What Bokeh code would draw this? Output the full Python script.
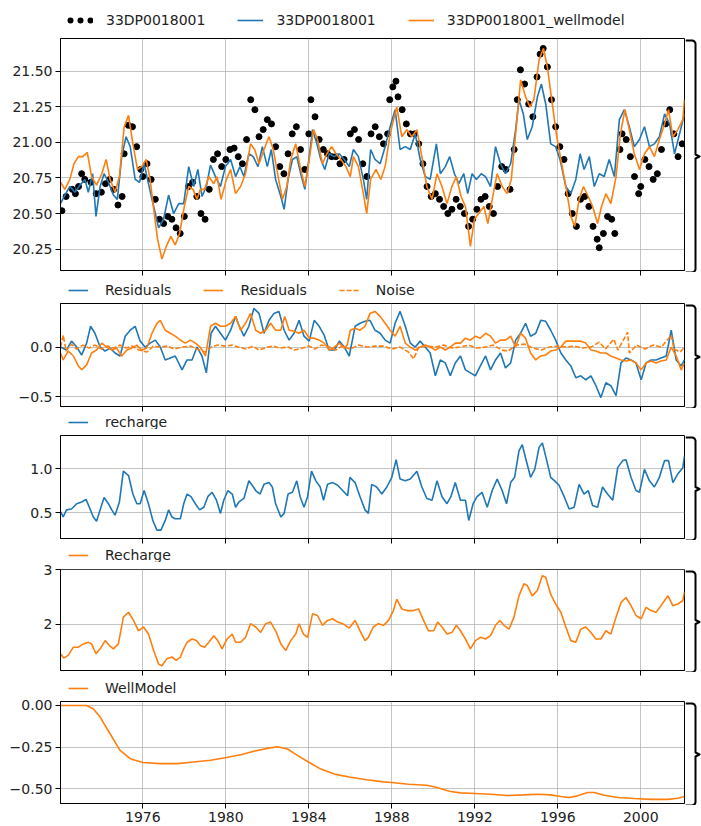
from bokeh.plotting import figure
from bokeh.layouts import column, row
from bokeh.models import (Range1d, FixedTicker, Legend, LegendItem,
                          CustomJSTickFormatter)
from bokeh.embed import file_html
from bokeh.resources import INLINE

# ---------------- data ----------------
obs_year = [1972.10, 1972.30, 1972.60, 1972.75, 1972.90, 1973.05, 1973.20, 1973.50, 1973.75, 1974.00,
            1974.20, 1974.40, 1974.60, 1974.80, 1975.00, 1975.10, 1975.30, 1975.50, 1975.70, 1975.90,
            1976.00, 1976.20, 1976.40, 1976.60, 1976.80, 1977.00, 1977.20, 1977.40, 1977.60, 1977.80,
            1978.00, 1978.20, 1978.40, 1978.60, 1978.80, 1979.00, 1979.20, 1979.40, 1979.60, 1979.80,
            1980.00, 1980.20, 1980.40, 1980.60, 1980.80, 1981.00, 1981.20, 1981.40, 1981.60, 1981.80,
            1982.00, 1982.20, 1982.40, 1982.60, 1982.80, 1983.00, 1983.20, 1983.40, 1983.60, 1983.80,
            1984.00, 1984.10, 1984.30, 1984.50, 1984.70, 1984.90, 1985.10, 1985.30, 1985.50, 1985.70,
            1986.00, 1986.20, 1986.40, 1986.60, 1986.80, 1987.00, 1987.20, 1987.40, 1987.60, 1987.80,
            1987.90, 1988.05, 1988.20, 1988.30, 1988.50, 1988.70, 1988.90, 1989.10, 1989.30, 1989.50,
            1989.70, 1989.90, 1990.10, 1990.30, 1990.50, 1990.70, 1990.90, 1991.10, 1991.30, 1991.50,
            1991.70, 1991.90, 1992.10, 1992.30, 1992.50, 1992.70, 1992.90, 1993.10, 1993.30, 1993.50,
            1993.70, 1993.90, 1994.05, 1994.20, 1994.40, 1994.60, 1994.80, 1995.00, 1995.15, 1995.30,
            1995.50, 1995.70, 1995.90, 1996.10, 1996.30, 1996.50, 1996.70, 1996.90, 1997.10, 1997.30,
            1997.50, 1997.70, 1997.90, 1998.00, 1998.20, 1998.40, 1998.60, 1998.75, 1999.00, 1999.10,
            1999.30, 1999.50, 1999.70, 1999.90, 2000.00, 2000.20, 2000.40, 2000.60, 2000.80, 2001.00,
            2001.20, 2001.40, 2001.60, 2001.80, 2002.00]
obs_head = [20.52, 20.62, 20.67, 20.64, 20.69, 20.78, 20.74, 20.72, 20.64, 20.65,
            20.71, 20.74, 20.67, 20.56, 20.62, 20.92, 21.12, 21.11, 20.97, 20.81,
            20.76, 20.85, 20.74, 20.60, 20.46, 20.43, 20.48, 20.46, 20.40, 20.36,
            20.48, 20.69, 20.72, 20.62, 20.50, 20.46, 20.67, 20.88, 20.92, 20.83,
            20.88, 20.95, 20.96, 20.90, 20.85, 21.02, 21.30, 21.23, 21.04, 21.09,
            21.16, 21.13, 20.97, 20.83, 20.78, 20.92, 21.06, 21.11, 20.95, 20.81,
            21.06, 21.30, 21.18, 21.02, 20.95, 20.92, 20.90, 20.90, 20.85, 20.88,
            21.06, 21.09, 21.02, 20.85, 20.76, 21.06, 21.11, 21.04, 20.99, 21.06,
            21.30, 21.39, 21.43, 21.32, 21.23, 21.13, 21.06, 21.06, 20.99, 20.85,
            20.69, 20.62, 20.64, 20.60, 20.55, 20.50, 20.53, 20.60, 20.55, 20.50,
            20.41, 20.46, 20.53, 20.60, 20.62, 20.55, 20.50, 20.69, 20.83, 20.81,
            20.67, 20.95, 21.30, 21.51, 21.41, 21.27, 21.18, 21.46, 21.62, 21.66,
            21.53, 21.30, 21.11, 20.97, 20.88, 20.64, 20.50, 20.41, 20.60, 20.62,
            20.55, 20.41, 20.32, 20.26, 20.36, 20.48, 20.46, 20.36, 20.95, 21.06,
            21.02, 20.90, 20.76, 20.64, 20.69, 20.88, 20.83, 20.74, 20.78, 20.95,
            21.13, 21.23, 21.06, 20.90, 20.99]

sim_year = [1972.03, 1972.24, 1972.48, 1972.73, 1972.97, 1973.21, 1973.37, 1973.58, 1973.74, 1973.94,
            1974.13, 1974.34, 1974.58, 1974.77, 1974.98, 1975.19, 1975.39, 1975.63, 1975.84, 1976.06,
            1976.27, 1976.52, 1976.76, 1977.00, 1977.24, 1977.48, 1977.73, 1977.97, 1978.21, 1978.45,
            1978.65, 1978.85, 1979.06, 1979.26, 1979.50, 1979.74, 1979.98, 1980.23, 1980.47, 1980.68,
            1980.87, 1981.11, 1981.32, 1981.55, 1981.76, 1982.00, 1982.19, 1982.40, 1982.65, 1982.81,
            1983.00, 1983.21, 1983.42, 1983.61, 1983.81, 1984.02, 1984.18, 1984.39, 1984.58, 1984.77,
            1984.98, 1985.23, 1985.47, 1985.71, 1985.95, 1986.15, 1986.39, 1986.63, 1986.79, 1986.98,
            1987.19, 1987.44, 1987.68, 1987.92, 1988.16, 1988.40, 1988.65, 1988.89, 1989.13, 1989.37,
            1989.61, 1989.85, 1990.15, 1990.34, 1990.58, 1990.79, 1991.02, 1991.23, 1991.47, 1991.66,
            1991.87, 1992.08, 1992.31, 1992.52, 1992.76, 1993.00, 1993.24, 1993.48, 1993.73, 1993.97,
            1994.13, 1994.34, 1994.53, 1994.77, 1995.02, 1995.21, 1995.42, 1995.66, 1995.90, 1996.11,
            1996.39, 1996.63, 1996.87, 1997.08, 1997.27, 1997.52, 1997.76, 1998.00, 1998.24, 1998.48,
            1998.73, 1998.97, 1999.21, 1999.45, 1999.69, 1999.94, 2000.18, 2000.42, 2000.66, 2000.90,
            2001.15, 2001.39, 2001.63, 2001.87, 2002.11]
sim_head = [20.57, 20.63, 20.69, 20.65, 20.70, 20.74, 20.65, 20.78, 20.48, 20.69,
            20.78, 20.72, 20.63, 20.60, 20.90, 21.04, 20.97, 20.74, 20.72, 20.85,
            20.71, 20.55, 20.40, 20.46, 20.63, 20.50, 20.57, 20.57, 20.83, 20.69,
            20.81, 20.62, 20.69, 20.84, 20.76, 20.69, 20.83, 20.88, 20.76, 20.83,
            20.76, 20.92, 20.90, 20.83, 20.97, 20.83, 20.95, 20.74, 20.62, 20.53,
            20.74, 20.88, 20.90, 20.78, 20.67, 20.90, 21.09, 20.99, 20.88, 20.81,
            20.92, 20.90, 20.92, 20.88, 20.83, 20.95, 20.90, 20.74, 20.60, 20.95,
            20.88, 20.85, 20.97, 21.11, 21.23, 20.95, 20.97, 20.95, 21.06, 20.88,
            20.76, 20.74, 20.99, 20.78, 20.83, 20.90, 20.78, 20.71, 20.78, 20.64,
            20.78, 20.74, 20.78, 20.76, 20.69, 20.97, 20.85, 20.78, 20.85, 21.09,
            21.30, 21.20, 21.02, 21.11, 21.32, 21.41, 21.27, 20.99, 20.97, 20.88,
            20.69, 20.64, 20.74, 20.92, 20.81, 20.90, 20.69, 20.78, 20.76, 20.88,
            20.76, 21.16, 21.23, 21.11, 20.97, 21.02, 21.11, 20.97, 20.99, 21.04,
            21.20, 21.13, 20.92, 21.06, 21.20]

wsim_year = [1972.03, 1972.24, 1972.48, 1972.68, 1972.89, 1973.10, 1973.32, 1973.53, 1973.77, 1974.02,
             1974.23, 1974.42, 1974.66, 1974.87, 1975.10, 1975.31, 1975.52, 1975.74, 1975.95, 1976.16,
             1976.35, 1976.55, 1976.71, 1976.92, 1977.13, 1977.35, 1977.56, 1977.77, 1978.00, 1978.21,
             1978.42, 1978.61, 1978.77, 1978.97, 1979.18, 1979.42, 1979.58, 1979.77, 1980.03, 1980.23,
             1980.47, 1980.71, 1980.95, 1981.19, 1981.39, 1981.60, 1981.84, 1982.08, 1982.29, 1982.52,
             1982.73, 1982.94, 1983.13, 1983.37, 1983.58, 1983.81, 1984.02, 1984.23, 1984.42, 1984.66,
             1984.87, 1985.10, 1985.31, 1985.55, 1985.79, 1986.00, 1986.15, 1986.39, 1986.63, 1986.79,
             1986.98, 1987.24, 1987.47, 1987.68, 1987.92, 1988.24, 1988.48, 1988.73, 1988.97, 1989.21,
             1989.45, 1989.69, 1989.94, 1990.18, 1990.42, 1990.66, 1990.90, 1991.11, 1991.34, 1991.55,
             1991.79, 1991.98, 1992.19, 1992.44, 1992.63, 1992.84, 1993.08, 1993.32, 1993.56, 1993.76,
             1993.97, 1994.21, 1994.45, 1994.66, 1994.85, 1995.10, 1995.31, 1995.50, 1995.71, 1995.95,
             1996.15, 1996.39, 1996.63, 1996.82, 1997.03, 1997.24, 1997.47, 1997.68, 1997.92, 1998.11,
             1998.32, 1998.56, 1998.81, 1999.02, 1999.24, 1999.45, 1999.69, 1999.94, 2000.18, 2000.42,
             2000.66, 2000.90, 2001.15, 2001.34, 2001.55, 2001.79, 2002.03, 2002.11]
wsim_head = [20.72, 20.67, 20.74, 20.85, 20.90, 20.90, 20.93, 20.76, 20.70, 20.78,
             20.88, 20.74, 20.65, 20.76, 21.11, 21.19, 20.99, 20.81, 20.83, 20.88,
             20.74, 20.50, 20.32, 20.18, 20.27, 20.34, 20.28, 20.36, 20.55, 20.69,
             20.67, 20.60, 20.67, 20.67, 20.76, 20.71, 20.76, 20.60, 20.74, 20.81,
             20.64, 20.69, 20.78, 20.99, 20.95, 20.85, 20.95, 21.04, 20.95, 20.76,
             20.60, 20.69, 20.88, 20.99, 20.83, 20.69, 20.88, 21.09, 21.02, 20.85,
             20.92, 20.97, 20.92, 20.88, 20.83, 20.76, 20.90, 20.83, 20.64, 20.50,
             20.74, 20.81, 20.74, 20.83, 21.06, 21.25, 21.04, 21.09, 21.04, 21.09,
             20.90, 20.69, 20.60, 20.78, 20.69, 20.57, 20.69, 20.76, 20.62, 20.55,
             20.27, 20.46, 20.50, 20.55, 20.43, 20.60, 20.78, 20.69, 20.64, 20.74,
             21.06, 21.44, 21.32, 21.25, 21.30, 21.58, 21.66, 21.53, 21.30, 21.04,
             20.88, 20.69, 20.48, 20.41, 20.60, 20.69, 20.62, 20.55, 20.43, 20.55,
             20.64, 20.57, 20.76, 21.06, 21.23, 21.09, 20.92, 20.81, 20.92, 20.97,
             20.90, 21.02, 21.13, 21.23, 21.04, 21.09, 21.16, 21.30]

res_year = [1972.03, 1972.32, 1972.56, 1972.81, 1973.05, 1973.29, 1973.48, 1973.69, 1973.94, 1974.18,
            1974.42, 1974.66, 1974.90, 1975.15, 1975.39, 1975.63, 1975.87, 1976.11, 1976.35, 1976.60,
            1976.84, 1977.08, 1977.32, 1977.56, 1977.89, 1978.13, 1978.37, 1978.61, 1978.85, 1979.06,
            1979.29, 1979.50, 1979.74, 1979.98, 1980.23, 1980.47, 1980.63, 1980.87, 1981.11, 1981.35,
            1981.60, 1981.84, 1982.08, 1982.32, 1982.56, 1982.81, 1983.05, 1983.29, 1983.53, 1983.77,
            1984.02, 1984.26, 1984.50, 1984.74, 1984.98, 1985.23, 1985.47, 1985.71, 1985.95, 1986.23,
            1986.47, 1986.71, 1986.95, 1987.19, 1987.44, 1987.68, 1987.92, 1988.16, 1988.40, 1988.65,
            1988.89, 1989.13, 1989.37, 1989.61, 1989.85, 1990.10, 1990.34, 1990.58, 1990.82, 1991.06,
            1991.31, 1991.55, 1991.79, 1992.03, 1992.27, 1992.52, 1992.76, 1993.00, 1993.24, 1993.48,
            1993.73, 1993.97, 1994.21, 1994.45, 1994.69, 1994.94, 1995.18, 1995.42, 1995.66, 1995.90,
            1996.15, 1996.39, 1996.63, 1996.87, 1997.11, 1997.35, 1997.60, 1997.84, 1998.08, 1998.32,
            1998.56, 1998.81, 1999.05, 1999.29, 1999.53, 1999.77, 2000.02, 2000.26, 2000.50, 2000.74,
            2000.98, 2001.23, 2001.47, 2001.71, 2001.95, 2002.11]
res_val = [0.00, -0.03, 0.06, 0.00, -0.08, 0.04, 0.21, 0.14, 0.00, -0.04,
           -0.01, -0.06, -0.09, 0.11, 0.17, 0.21, 0.06, 0.00, 0.04, 0.07,
           0.00, -0.13, -0.11, -0.09, -0.23, -0.13, -0.13, 0.00, -0.09, -0.26,
           0.14, 0.21, 0.14, 0.07, 0.17, 0.31, 0.22, 0.11, 0.21, 0.39,
           0.34, 0.14, 0.27, 0.34, 0.36, 0.17, 0.07, 0.14, 0.27, 0.11,
           0.06, 0.27, 0.21, 0.12, -0.03, -0.03, 0.06, 0.00, -0.09, 0.21,
           0.24, 0.26, 0.27, 0.17, 0.14, 0.07, 0.04, 0.24, 0.36, 0.21,
           0.04, 0.00, 0.06, 0.00, -0.06, -0.29, -0.13, -0.16, -0.29, -0.16,
           -0.09, -0.23, -0.26, -0.29, -0.19, -0.09, -0.23, -0.13, -0.06, -0.21,
           -0.16, 0.07, 0.14, 0.24, 0.11, 0.14, 0.27, 0.26, 0.17, 0.07,
           -0.06, -0.13, -0.19, -0.31, -0.29, -0.33, -0.29, -0.39, -0.51, -0.36,
           -0.39, -0.49, -0.16, -0.11, -0.13, -0.16, -0.33, -0.16, -0.13, -0.13,
           -0.11, -0.09, 0.17, -0.13, -0.19, -0.13]

wres_year = [1972.03, 1972.16, 1972.40, 1972.65, 1972.89, 1973.05, 1973.29, 1973.53, 1973.77, 1974.02,
             1974.26, 1974.50, 1974.74, 1974.98, 1975.23, 1975.47, 1975.71, 1975.95, 1976.19, 1976.44,
             1976.68, 1976.84, 1977.08, 1977.32, 1977.56, 1977.81, 1978.05, 1978.29, 1978.53, 1978.77,
             1979.02, 1979.26, 1979.50, 1979.74, 1979.98, 1980.23, 1980.47, 1980.71, 1980.95, 1981.19,
             1981.44, 1981.68, 1981.92, 1982.16, 1982.40, 1982.65, 1982.84, 1983.05, 1983.29, 1983.53,
             1983.77, 1984.02, 1984.26, 1984.50, 1984.74, 1984.98, 1985.23, 1985.47, 1985.71, 1985.85,
             1986.00, 1986.23, 1986.47, 1986.71, 1986.95, 1987.19, 1987.44, 1987.68, 1987.92, 1988.16,
             1988.40, 1988.65, 1988.89, 1989.13, 1989.37, 1989.61, 1989.85, 1990.10, 1990.34, 1990.58,
             1990.82, 1991.06, 1991.31, 1991.55, 1991.79, 1992.03, 1992.27, 1992.52, 1992.76, 1993.00,
             1993.24, 1993.48, 1993.73, 1993.97, 1994.21, 1994.45, 1994.69, 1994.94, 1995.18, 1995.42,
             1995.66, 1995.90, 1996.15, 1996.39, 1996.63, 1996.87, 1997.11, 1997.35, 1997.60, 1997.84,
             1998.08, 1998.32, 1998.56, 1998.81, 1999.05, 1999.29, 1999.53, 1999.77, 2000.02, 2000.26,
             2000.50, 2000.74, 2000.98, 2001.23, 2001.47, 2001.71, 2001.95, 2002.11]
wres_val = [-0.06, -0.13, -0.04, -0.09, -0.19, -0.23, -0.18, -0.06, -0.03, 0.04,
            0.00, -0.03, -0.01, -0.09, -0.03, -0.01, 0.02, -0.03, -0.01, 0.14,
            0.24, 0.27, 0.17, 0.14, 0.11, 0.07, 0.04, 0.07, 0.04, 0.00,
            -0.09, 0.21, 0.24, 0.21, 0.21, 0.24, 0.31, 0.17, 0.24, 0.34,
            0.17, 0.14, 0.17, 0.24, 0.17, 0.17, 0.31, 0.17, 0.16, 0.14,
            0.17, 0.09, 0.09, 0.07, 0.04, -0.03, 0.00, 0.04, -0.01, 0.02,
            0.17, 0.19, 0.17, 0.21, 0.34, 0.36, 0.31, 0.24, 0.17, 0.11,
            0.21, 0.04, 0.00, -0.03, 0.00, 0.02, 0.00, -0.03, 0.00, -0.03,
            0.00, 0.04, 0.04, 0.09, 0.07, 0.11, 0.09, 0.14, 0.11, 0.04,
            0.07, 0.07, 0.11, 0.00, 0.14, 0.09, -0.06, -0.13, -0.09, -0.08,
            -0.04, -0.03, 0.00, 0.06, 0.06, 0.06, 0.06, 0.04, -0.03, -0.04,
            -0.06, -0.06, -0.09, -0.11, -0.13, -0.14, -0.13, -0.16, -0.23, -0.16,
            -0.14, -0.16, -0.14, -0.13, 0.00, -0.09, -0.23, -0.16]

noise_year = [1972.03, 1972.16, 1972.30, 1972.55, 1972.80, 1973.10, 1973.40, 1973.70, 1974.00, 1974.30,
              1974.60, 1974.90, 1975.20, 1975.50, 1975.80, 1976.20, 1976.50, 1976.80, 1977.20, 1977.50,
              1977.90, 1978.30, 1978.60, 1979.00, 1979.30, 1979.60, 1980.00, 1980.30, 1980.60, 1981.00,
              1981.30, 1981.60, 1982.00, 1982.30, 1982.60, 1983.00, 1983.30, 1983.70, 1984.00, 1984.30,
              1984.60, 1985.00, 1985.30, 1985.60, 1986.00, 1986.40, 1986.80, 1987.20, 1987.60, 1988.00,
              1988.40, 1988.80, 1989.05, 1989.30, 1989.70, 1990.10, 1990.50, 1990.90, 1991.30, 1991.70,
              1992.10, 1992.50, 1992.90, 1993.30, 1993.60, 1994.00, 1994.40, 1994.80, 1995.20, 1995.60,
              1996.00, 1996.40, 1996.80, 1997.20, 1997.60, 1998.00, 1998.30, 1998.70, 1998.90, 1999.37,
              1999.45, 1999.80, 2000.20, 2000.60, 2001.00, 2001.47, 2001.60, 2001.90, 2002.11]
noise_val = [0.00, 0.12, -0.04, 0.03, -0.02, 0.02, -0.01, 0.02, -0.02, 0.01,
             -0.01, 0.02, -0.01, 0.01, -0.03, -0.05, 0.01, 0.00, 0.01, -0.02,
             0.00, 0.01, -0.02, -0.05, 0.00, 0.02, 0.01, 0.02, 0.00, -0.02,
             0.01, -0.03, 0.00, 0.01, -0.01, 0.00, -0.03, -0.01, 0.01, -0.02,
             0.02, 0.00, -0.03, 0.01, -0.02, 0.02, 0.00, 0.01, 0.01, -0.02,
             0.00, -0.05, -0.12, 0.00, 0.01, 0.00, 0.02, -0.01, 0.00, 0.02,
             -0.01, 0.00, 0.02, -0.03, -0.04, 0.02, 0.03, -0.01, -0.03, 0.00,
             0.01, 0.00, 0.01, -0.01, 0.00, 0.05, -0.02, 0.08, -0.03, 0.15,
             -0.06, 0.02, -0.02, 0.02, 0.00, 0.12, -0.02, -0.05, 0.00]

rech_year = [1972.03, 1972.16, 1972.32, 1972.56, 1972.81, 1973.05, 1973.26, 1973.42, 1973.61, 1973.77,
             1973.94, 1974.13, 1974.34, 1974.50, 1974.66, 1974.87, 1975.06, 1975.31, 1975.52, 1975.71,
             1975.87, 1976.06, 1976.27, 1976.48, 1976.68, 1976.87, 1977.08, 1977.24, 1977.40, 1977.56,
             1977.81, 1977.97, 1978.13, 1978.32, 1978.53, 1978.74, 1978.94, 1979.13, 1979.34, 1979.55,
             1979.74, 1979.90, 1980.10, 1980.31, 1980.47, 1980.63, 1980.87, 1981.11, 1981.27, 1981.44,
             1981.65, 1981.84, 1982.08, 1982.24, 1982.40, 1982.65, 1982.81, 1983.00, 1983.21, 1983.42,
             1983.58, 1983.77, 1983.94, 1984.13, 1984.34, 1984.55, 1984.71, 1984.90, 1985.15, 1985.39,
             1985.63, 1985.87, 1985.98, 1986.23, 1986.47, 1986.71, 1986.87, 1987.03, 1987.27, 1987.52,
             1987.76, 1988.00, 1988.21, 1988.40, 1988.65, 1988.89, 1989.21, 1989.45, 1989.69, 1989.94,
             1990.18, 1990.42, 1990.66, 1990.85, 1991.06, 1991.31, 1991.55, 1991.71, 1991.92, 1992.11,
             1992.35, 1992.60, 1992.84, 1993.08, 1993.32, 1993.53, 1993.73, 1993.92, 1994.13, 1994.29,
             1994.45, 1994.69, 1994.89, 1995.10, 1995.26, 1995.47, 1995.66, 1995.85, 1996.06, 1996.31,
             1996.55, 1996.79, 1997.03, 1997.27, 1997.47, 1997.68, 1997.92, 1998.16, 1998.40, 1998.65,
             1998.89, 1999.13, 1999.29, 1999.53, 1999.77, 1999.94, 2000.18, 2000.42, 2000.66, 2000.90,
             2001.15, 2001.34, 2001.55, 2001.79, 2002.03, 2002.11]
rech_val = [0.51, 0.45, 0.53, 0.54, 0.60, 0.62, 0.65, 0.56, 0.45, 0.40,
            0.53, 0.67, 0.60, 0.53, 0.47, 0.62, 0.97, 0.92, 0.71, 0.60,
            0.60, 0.75, 0.60, 0.41, 0.30, 0.30, 0.41, 0.53, 0.45, 0.43,
            0.43, 0.60, 0.71, 0.68, 0.60, 0.53, 0.56, 0.68, 0.73, 0.64,
            0.49, 0.64, 0.75, 0.71, 0.56, 0.62, 0.66, 0.86, 0.81, 0.75,
            0.71, 0.82, 0.84, 0.79, 0.60, 0.45, 0.49, 0.71, 0.73, 0.86,
            0.68, 0.56, 0.68, 0.97, 0.86, 0.79, 0.64, 0.82, 0.84, 0.81,
            0.75, 0.69, 0.90, 0.84, 0.68, 0.53, 0.49, 0.82, 0.79, 0.71,
            0.79, 0.90, 1.10, 0.88, 0.86, 0.88, 0.97, 0.79, 0.66, 0.64,
            0.86, 0.68, 0.60, 0.68, 0.84, 0.64, 0.64, 0.41, 0.60, 0.68,
            0.73, 0.56, 0.75, 0.88, 0.75, 0.60, 0.84, 0.90, 1.20, 1.27,
            1.12, 0.90, 0.99, 1.24, 1.29, 1.09, 0.90, 0.86, 0.81, 0.68,
            0.54, 0.56, 0.82, 0.71, 0.75, 0.58, 0.56, 0.79, 0.71, 0.64,
            1.01, 1.09, 1.10, 0.90, 0.75, 0.73, 0.99, 0.86, 0.79, 0.90,
            1.09, 1.09, 0.84, 0.94, 1.01, 1.14]

wrech_year = [1972.03, 1972.19, 1972.40, 1972.65, 1972.89, 1973.13, 1973.37, 1973.53, 1973.74, 1973.94,
              1974.18, 1974.39, 1974.58, 1974.82, 1975.06, 1975.31, 1975.55, 1975.79, 1976.03, 1976.27,
              1976.52, 1976.76, 1976.92, 1977.16, 1977.40, 1977.61, 1977.81, 1977.97, 1978.13, 1978.37,
              1978.58, 1978.77, 1978.97, 1979.18, 1979.42, 1979.61, 1979.82, 1980.06, 1980.31, 1980.47,
              1980.71, 1980.95, 1981.19, 1981.44, 1981.68, 1981.92, 1982.16, 1982.40, 1982.65, 1982.89,
              1983.13, 1983.37, 1983.53, 1983.74, 1983.94, 1984.18, 1984.42, 1984.66, 1984.90, 1985.15,
              1985.39, 1985.63, 1985.95, 1986.23, 1986.47, 1986.71, 1986.87, 1987.11, 1987.35, 1987.60,
              1987.84, 1988.08, 1988.24, 1988.48, 1988.73, 1989.05, 1989.29, 1989.53, 1989.77, 1990.02,
              1990.21, 1990.42, 1990.66, 1990.90, 1991.11, 1991.31, 1991.55, 1991.79, 1992.03, 1992.27,
              1992.52, 1992.76, 1993.00, 1993.21, 1993.40, 1993.65, 1993.89, 1994.13, 1994.37, 1994.53,
              1994.77, 1995.02, 1995.26, 1995.42, 1995.66, 1995.90, 1996.15, 1996.39, 1996.63, 1996.87,
              1997.11, 1997.35, 1997.60, 1997.84, 1998.08, 1998.32, 1998.56, 1998.81, 1999.05, 1999.29,
              1999.53, 1999.77, 2000.02, 2000.26, 2000.50, 2000.74, 2000.98, 2001.31, 2001.55, 2001.79,
              2002.03, 2002.11]
wrech_val = [1.46, 1.38, 1.43, 1.58, 1.58, 1.64, 1.67, 1.64, 1.46, 1.55,
             1.70, 1.61, 1.55, 1.64, 2.13, 2.22, 2.07, 1.88, 1.95, 1.82,
             1.52, 1.27, 1.24, 1.37, 1.40, 1.34, 1.40, 1.55, 1.67, 1.73,
             1.70, 1.61, 1.58, 1.67, 1.79, 1.70, 1.55, 1.73, 1.82, 1.67,
             1.67, 1.76, 2.01, 1.95, 1.85, 2.01, 2.04, 1.88, 1.64, 1.52,
             1.70, 1.82, 2.01, 1.82, 1.76, 2.19, 2.16, 1.98, 2.07, 2.10,
             2.04, 2.01, 1.93, 2.07, 1.88, 1.70, 1.76, 1.95, 2.01, 1.98,
             2.07, 2.25, 2.46, 2.28, 2.25, 2.25, 2.28, 2.07, 1.88, 1.88,
             2.04, 1.95, 1.82, 1.85, 1.98, 1.88, 1.73, 1.55, 1.70, 1.76,
             1.73, 1.79, 1.98, 2.07, 1.98, 1.91, 2.13, 2.52, 2.74, 2.71,
             2.52, 2.62, 2.89, 2.86, 2.55, 2.37, 2.22, 1.95, 1.70, 1.67,
             1.91, 1.95, 1.85, 1.73, 1.73, 1.88, 1.82, 2.13, 2.40, 2.49,
             2.34, 2.16, 2.10, 2.31, 2.25, 2.22, 2.34, 2.52, 2.34, 2.37,
             2.43, 2.59]

well_year = [1972.03, 1973.29, 1973.61, 1973.94, 1974.42, 1974.90, 1975.39, 1976.00, 1976.84, 1977.65,
             1978.45, 1979.26, 1980.03, 1980.71, 1981.35, 1982.00, 1982.48, 1982.97, 1983.45, 1984.02,
             1984.58, 1985.23, 1985.95, 1986.79, 1987.60, 1988.00, 1988.81, 1989.69, 1990.18, 1990.82,
             1991.31, 1992.00, 1992.76, 1993.56, 1994.37, 1995.02, 1995.66, 1996.15, 1996.55, 1996.95,
             1997.44, 1997.76, 1998.24, 1998.89, 1999.69, 2000.50, 2001.31, 2001.79, 2002.11]
well_val = [0.000, 0.000, -0.020, -0.070, -0.170, -0.270, -0.320, -0.343, -0.350, -0.350,
            -0.340, -0.330, -0.313, -0.296, -0.276, -0.258, -0.248, -0.262, -0.300, -0.343,
            -0.383, -0.413, -0.430, -0.447, -0.460, -0.464, -0.474, -0.480, -0.494, -0.518,
            -0.526, -0.530, -0.534, -0.542, -0.538, -0.534, -0.538, -0.548, -0.554, -0.544,
            -0.524, -0.524, -0.540, -0.554, -0.560, -0.565, -0.565, -0.558, -0.548]

year_ticks = [1976, 1980, 1984, 1988, 1992, 1996, 2000]

# ---------------- styling / layout ----------------
BLUE = "#1f77b4"
ORANGE = "#ff7f0e"
FONT = "DejaVu Sans"
FS = "14px"
X0, X1 = 1972.03, 2002.11
FW = 624
LEFT = 60
BW = 16                       # bracket strip width
TOTAL_W = LEFT + FW + 1 + BW  # 701
LH = 16                       # legend row height
LW = 1.6
DOT = 6

x_range = Range1d(X0, X1)


def make_fig(ylo, yhi, fh, top, bottom, yticks, digits, show_x):
    p = figure(frame_width=FW, frame_height=fh, x_range=x_range,
               y_range=Range1d(ylo, yhi), output_backend="svg",
               toolbar_location=None, min_border_left=LEFT,
               min_border_right=1, min_border_top=top,
               min_border_bottom=bottom, background_fill_color="white",
               border_fill_color="white")
    p.outline_line_color = "black"
    p.outline_line_width = 1
    p.xaxis.ticker = FixedTicker(ticks=year_ticks)
    p.xgrid.ticker = FixedTicker(ticks=year_ticks)
    p.yaxis.ticker = FixedTicker(ticks=yticks)
    p.ygrid.ticker = FixedTicker(ticks=yticks)
    p.yaxis.formatter = CustomJSTickFormatter(
        code="return tick.toFixed(%d).replace('-', '\\u2212')" % digits)
    if show_x:
        p.xaxis.formatter = CustomJSTickFormatter(code="return tick.toFixed(0)")
        p.xaxis.major_label_standoff = 3
        p.xaxis.major_label_text_font_size = FS
    else:
        p.xaxis.formatter = CustomJSTickFormatter(code="return ''")
        p.xaxis.major_label_standoff = 0
        p.xaxis.major_label_text_font_size = "2px"
    for ax in (p.xaxis, p.yaxis):
        ax.axis_line_color = "black"
        ax.major_tick_line_color = "black"
        ax.major_tick_in = 0
        ax.major_tick_out = 5
        ax.minor_tick_line_color = None
        ax.major_label_text_font = FONT
        ax.major_label_text_color = "#222222"
    p.yaxis.major_label_text_font_size = FS
    p.yaxis.major_label_standoff = 3
    p.grid.grid_line_color = "#b0b0b0"
    p.grid.grid_line_alpha = 0.75
    p.grid.grid_line_width = 1
    return p


def make_bracket(fh, top):
    # narrow strip, aligned with the panel frame, holding the "}" bracket
    b = figure(frame_width=BW, frame_height=fh + 4, x_range=Range1d(0, BW),
               y_range=Range1d(-2, fh + 2), output_backend="svg",
               toolbar_location=None, min_border_left=0, min_border_right=0,
               min_border_top=top - 2, min_border_bottom=0,
               x_axis_location=None, y_axis_location=None,
               background_fill_color="white", border_fill_color="white")
    b.outline_line_color = None
    b.grid.visible = False
    m = fh / 2
    b.line([0, 7, 9, 10, 10, 14, 10, 10, 9, 7, 0],
           [fh, fh, fh - 1, fh - 3, m + 2, m, m - 2, 3, 1, 0, 0],
           line_color="black", line_width=2, line_join="round")
    return b


def make_legend_strip(height, center_from_top, entries, gw=20, standoff=17, x_in=8):
    # a strip above a panel that only shows that panel's legend;
    # its ranges are far away from the data, so only the legend is visible
    s = figure(frame_width=TOTAL_W, frame_height=height,
               x_range=Range1d(-5000, -4000), y_range=Range1d(-5000, -4000),
               output_backend="svg", toolbar_location=None,
               min_border_left=0, min_border_right=0, min_border_top=0,
               min_border_bottom=0, x_axis_location=None, y_axis_location=None,
               background_fill_color="white", border_fill_color="white")
    s.outline_line_color = None
    s.grid.visible = False
    items = []
    for label, glyphs in entries:
        rs = []
        for kind, xs, ys, kw in glyphs:
            if kind == "line":
                rs.append(s.line(xs, ys, **kw))
            else:
                rs.append(s.scatter(xs, ys, **kw))
        items.append(LegendItem(label=label, renderers=rs))
    vy = (height - center_from_top) - LH / 2
    leg = Legend(items=items, orientation="horizontal", location=(LEFT + x_in, vy),
                 label_text_font=FONT, label_text_font_size=FS,
                 label_text_color="#222222", glyph_width=gw, glyph_height=LH,
                 label_height=LH, label_standoff=standoff, spacing=32, padding=0,
                 margin=0, border_line_color=None, background_fill_alpha=0)
    s.add_layout(leg)
    return s


# three dots in the legend handle of the observations (dots at +3, +13, +23 px)
dots_kw = dict(line_color="black", line_width=DOT, line_dash="0 10",
               line_dash_offset=7, line_cap="round")

# panel 1: heads
FH1, T1 = 232, 8
p1 = make_fig(20.10, 21.73, FH1, T1, 8, [20.25, 20.5, 20.75, 21.0, 21.25, 21.5], 2, False)
p1.scatter(obs_year, obs_head, size=DOT, color="black")
p1.line(sim_year, sim_head, line_color=BLUE, line_width=LW)
p1.line(wsim_year, wsim_head, line_color=ORANGE, line_width=LW)
s1 = make_legend_strip(30, 20, [
    ("33DP0018001", [("line", obs_year, obs_head, dots_kw)]),
    ("33DP0018001", [("line", sim_year, sim_head, dict(line_color=BLUE, line_width=LW))]),
    ("33DP0018001_wellmodel", [("line", wsim_year, wsim_head, dict(line_color=ORANGE, line_width=LW))]),
], gw=26, standoff=13, x_in=7)

# panel 2: residuals & noise
FH2, T2 = 103, 6
p2 = make_fig(-0.60, 0.44, FH2, T2, 8, [-0.5, 0.0], 1, False)
p2.line(res_year, res_val, line_color=BLUE, line_width=LW)
p2.line(wres_year, wres_val, line_color=ORANGE, line_width=LW)
p2.line(noise_year, noise_val, line_color=ORANGE, line_width=LW, line_dash="5 2")
s2 = make_legend_strip(19, 12, [
    ("Residuals", [("line", res_year, res_val, dict(line_color=BLUE, line_width=LW))]),
    ("Residuals", [("line", wres_year, wres_val, dict(line_color=ORANGE, line_width=LW))]),
    ("Noise", [("line", noise_year, noise_val, dict(line_color=ORANGE, line_width=LW, line_dash="5 2"))]),
])

# panel 3: recharge (blue)
FH3, T3 = 103, 6
p3 = make_fig(0.205, 1.375, FH3, T3, 8, [0.5, 1.0], 1, False)
p3.line(rech_year, rech_val, line_color=BLUE, line_width=LW)
s3 = make_legend_strip(15, 8, [
    ("recharge", [("line", rech_year, rech_val, dict(line_color=BLUE, line_width=LW))]),
])

# panel 4: Recharge (orange)
FH4, T4 = 101, 7
p4 = make_fig(1.153, 3.002, FH4, T4, 8, [2, 3], 0, False)
p4.line(wrech_year, wrech_val, line_color=ORANGE, line_width=LW)
s4 = make_legend_strip(16, 9, [
    ("Recharge", [("line", wrech_year, wrech_val, dict(line_color=ORANGE, line_width=LW))]),
])

# panel 5: WellModel
FH5, T5 = 102, 6
p5 = make_fig(-0.59, 0.024, FH5, T5, 22, [-0.5, -0.25, 0.0], 2, True)
p5.line(well_year, well_val, line_color=ORANGE, line_width=LW)
s5 = make_legend_strip(17, 10, [
    ("WellModel", [("line", well_year, well_val, dict(line_color=ORANGE, line_width=LW))]),
])

children = []
for s, p, fh, t in [(s1, p1, FH1, T1), (s2, p2, FH2, T2), (s3, p3, FH3, T3),
                    (s4, p4, FH4, T4), (s5, p5, FH5, T5)]:
    children.append(s)
    children.append(row(p, make_bracket(fh, t), spacing=0))
layout = column(*children, spacing=0)
open("out.html", "w").write(file_html(layout, INLINE))
